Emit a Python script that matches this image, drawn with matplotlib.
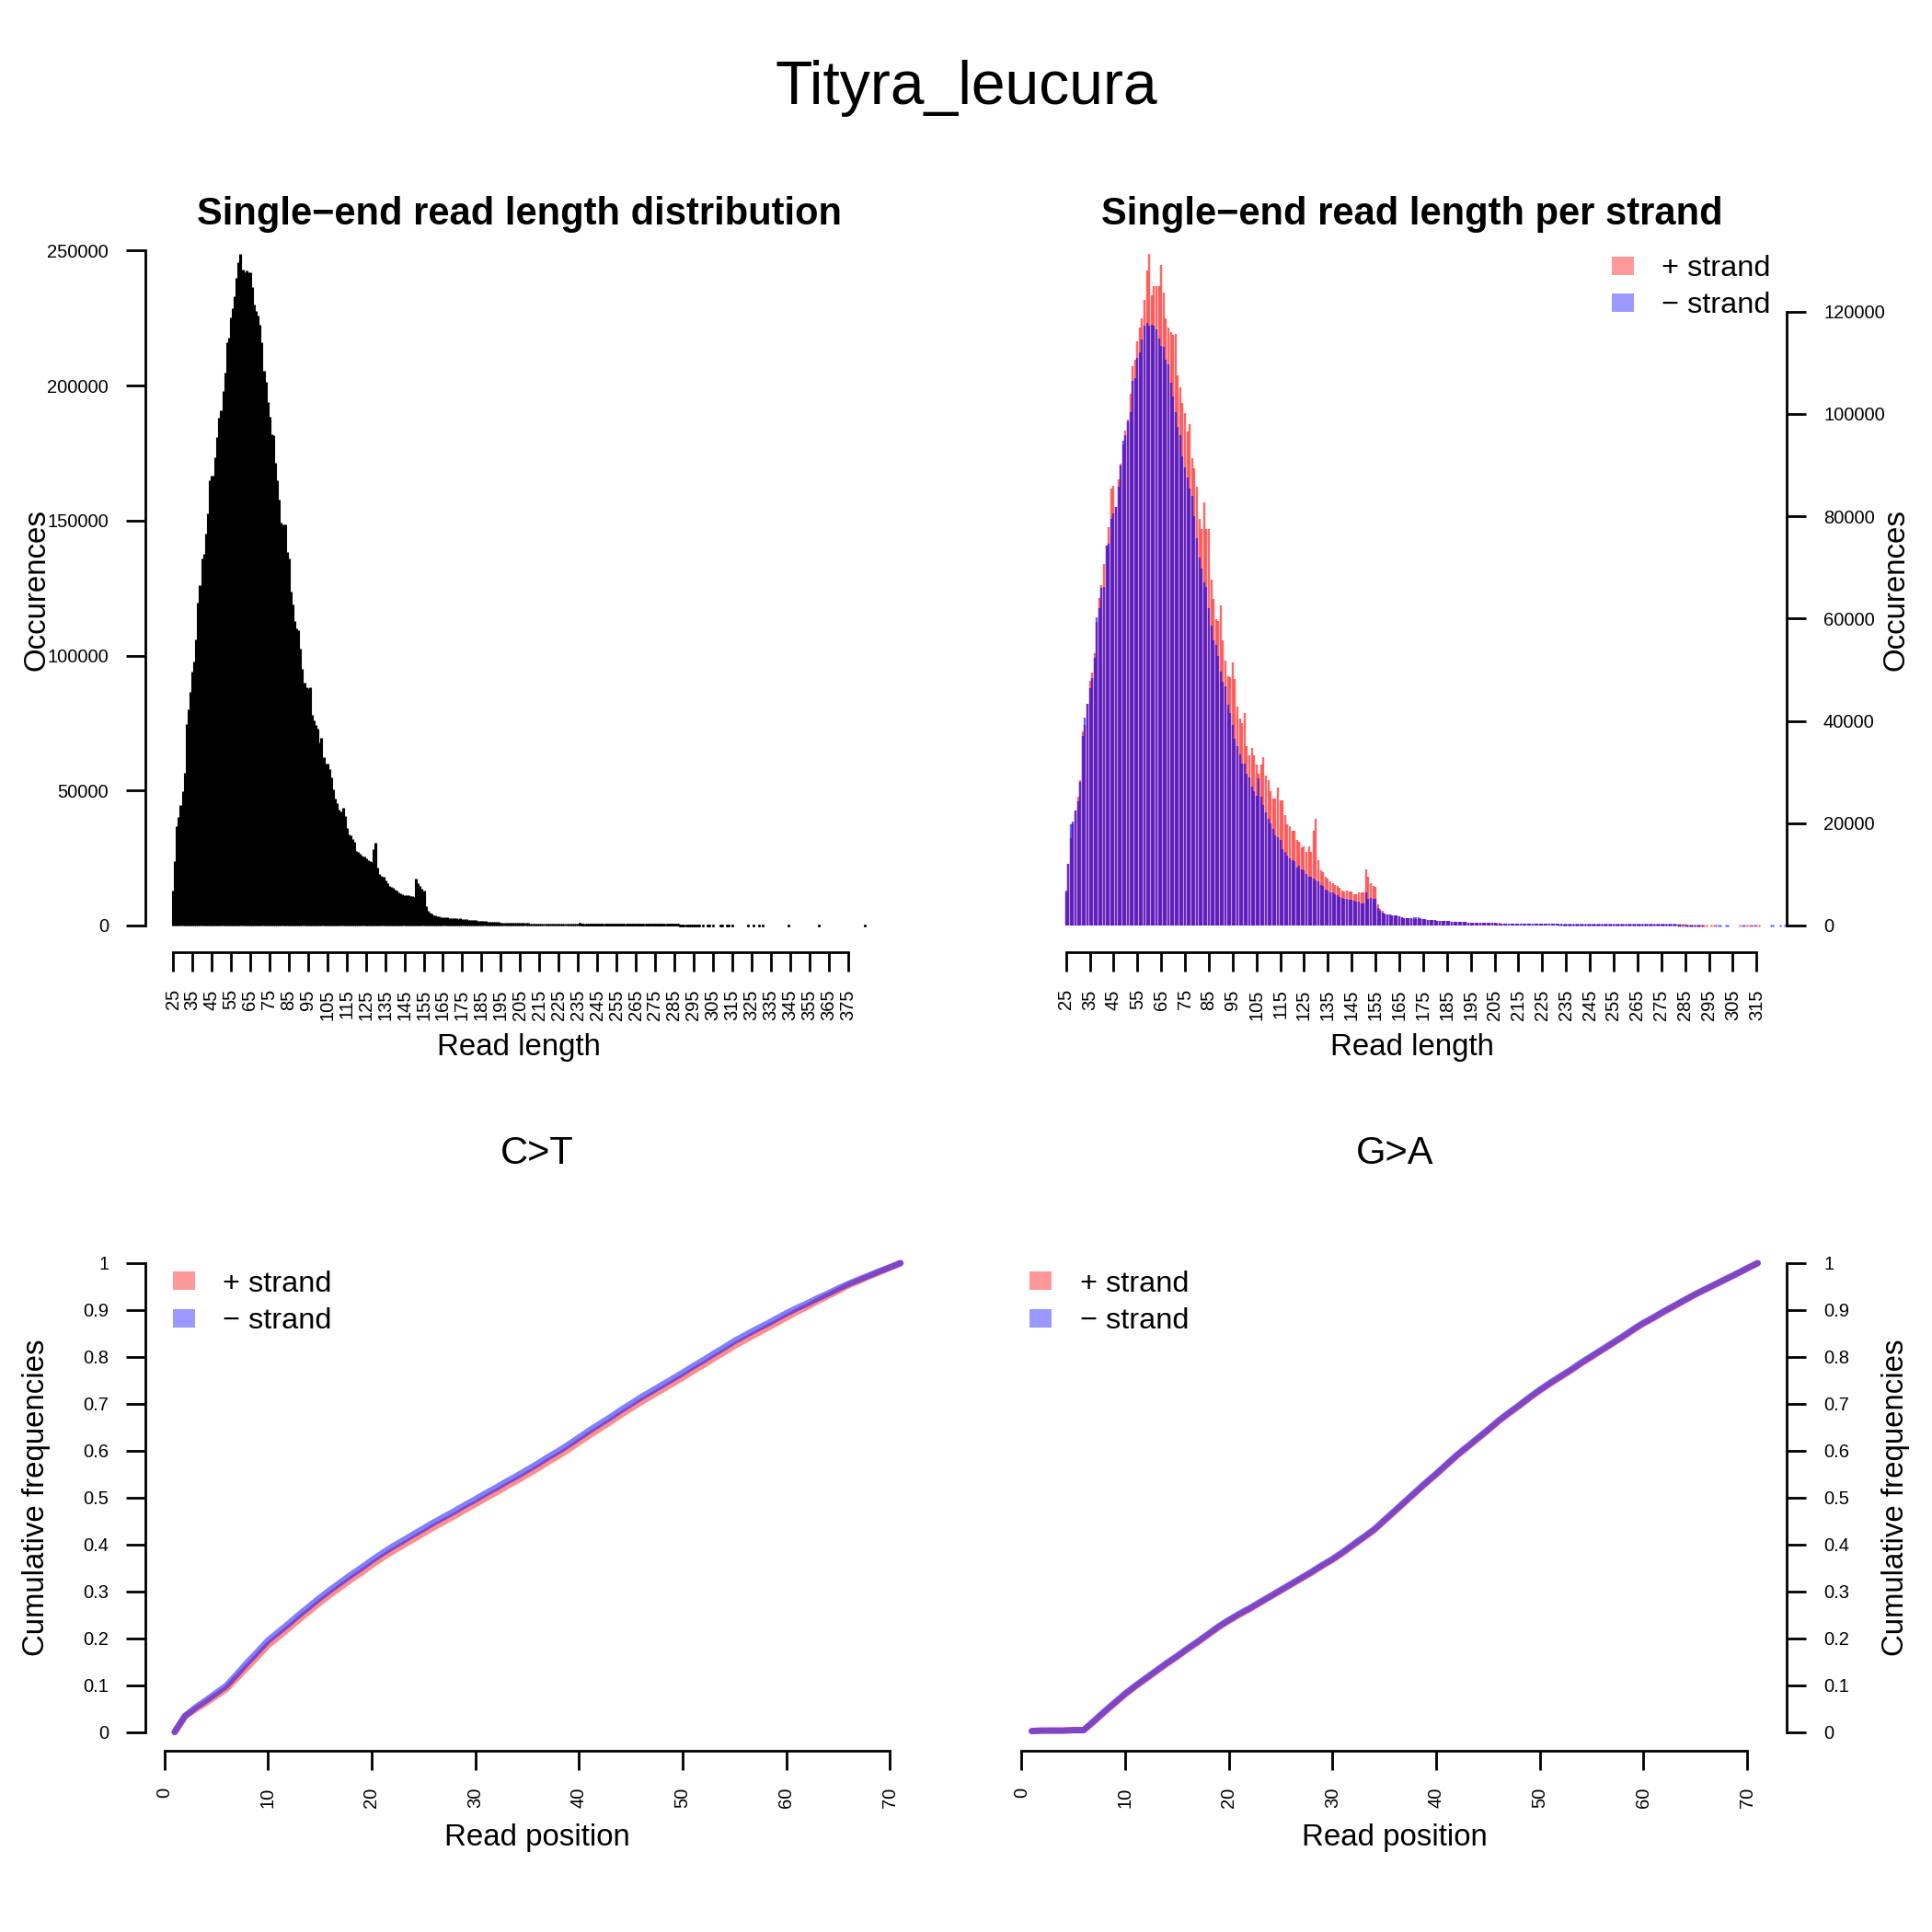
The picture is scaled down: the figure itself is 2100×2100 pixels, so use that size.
import numpy as np
import matplotlib
matplotlib.use("Agg")
import matplotlib.pyplot as plt
from matplotlib.patches import Rectangle

plt.rcParams['font.family'] = ['Liberation Sans', 'DejaVu Sans']

# ---------------- data ----------------
sample_name = "Tityra_leucura"

# read length distribution (all reads), lengths 25..296 then sparse tail
main_first_len = 25
main_counts = [
    13000, 24000, 36700, 40100, 44600, 49800, 56600, 74700, 80000, 86700,
    94000, 97700, 106000, 119600, 126100, 136100, 137600, 145200, 152600, 165100,
    166800, 166800, 173300, 181000, 188100, 190800, 198000, 204800, 216000, 217700,
    225200, 228800, 233200, 239800, 245700, 248800, 242900, 242000, 242500, 242000,
    241800, 236400, 229900, 227500, 225800, 222400, 216200, 205400, 201400, 194000,
    188400, 182100, 181600, 171300, 165100, 157700, 149100, 148600, 148600, 138400,
    136100, 123600, 119000, 112800, 110000, 109400, 102600, 95200, 90100, 88400,
    87800, 88100, 78100, 76000, 74200, 73000, 67900, 69600, 62300, 60000,
    60000, 58000, 54900, 50300, 46900, 45200, 43000, 42400, 43500, 40700,
    36100, 33900, 33300, 32200, 31000, 27600, 27100, 26500, 25900, 25400,
    24800, 24200, 23900, 23500, 28200, 30500, 21400, 19100, 18500, 17900,
    16800, 15700, 14800, 14300, 13900, 13400, 12800, 12300, 11900, 11700,
    11400, 11100, 11100, 10900, 10800, 10600, 17400, 15700, 14800, 13600,
    12800, 7100, 5600, 4800, 4300, 3900, 3700, 3500, 3400, 3100,
    3100,
    3000, 2900, 2800, 2750, 2700, 2650, 2600, 2550, 2600, 2500,
    2400, 2300, 2200, 2100, 2050, 1950, 1900, 1800, 1750, 1700,
    1600, 1550, 1500, 1450, 1400, 1350, 1300, 1250, 1200, 1180,
    1150, 1100, 1080, 1050, 1020, 1000, 980, 960, 940, 920,
    910, 900, 880, 860, 850, 830, 810, 800, 780, 770,
    750, 740, 720, 700, 690, 680, 660, 650, 640, 630,
    610, 600, 590, 580, 570, 560, 550, 540, 530, 520,
    510, 500, 490, 480, 470, 460, 455, 450, 440, 430,
    420, 415, 410, 400, 390, 380, 375, 370, 360, 355,
    350, 340, 335, 330, 320, 315, 310, 300, 295, 290,
    285, 280, 270, 265, 260, 255, 250, 245, 240, 230,
    225, 220, 215, 210, 205, 200, 195, 190, 185, 180,
    175, 170, 160, 150, 140, 120, 100, 80, 60, 40,
    20,
]
main_tail_lengths = [297, 298, 300, 302, 303, 305, 309, 310, 312, 313, 315,
                     323, 326, 329, 331, 344, 360, 384]
main_tail_counts = [8, 6, 5, 4, 4, 3, 3, 3, 2, 2, 2, 2, 2, 1, 1, 1, 1, 1]

# per strand, lengths 25..290 then sparse tails
strand_first_len = 25
plus_counts = [
    6500, 12000, 17000, 20000, 22400, 25100, 28400, 38000, 39200, 43400,
    47900, 49400, 53300, 59300, 64100, 66500, 70700, 74300, 77900, 85400,
    85900, 81800, 87200, 90200, 94100, 96800, 98900, 104000, 109400, 110600,
    114200, 116900, 118700, 122300, 128000, 131300, 123200, 125000, 125000, 125000,
    129200, 123700, 118700, 116900, 116000, 115400, 115700, 107600, 105200, 102200,
    100100, 96500, 98000, 91400, 89300, 85700, 79400, 77600, 82700, 77600,
    77600, 67700, 63800, 59900, 59600, 62600, 55700, 51800, 48800, 48500,
    51500, 48200, 42800, 40400, 39500, 41600, 35000, 33200, 34700, 33200,
    31400, 29600, 31400, 32900, 29300, 28400, 26300, 24800, 24800, 26900,
    24500, 24500, 21500, 19700, 19400, 18600, 18500, 16700, 16400, 15200,
    15500, 14300, 15500, 14300, 18500, 20900, 12800, 10700, 10400, 9500,
    9200, 8600, 8300, 8000, 7700, 7400, 6800, 6600, 6800, 6600,
    6600, 6200, 6200, 6400, 6500, 6500, 11000, 9500, 8300, 7800,
    7600, 4100, 3200, 2800, 2400, 2200, 2100, 2000, 1950, 1900,
    1850,
    1550, 1500, 1450, 1400, 1370, 1340, 1300, 1270, 1250, 1220,
    1180, 1130, 1090, 1050, 1010, 970, 940, 900, 870, 850,
    820, 790, 760, 740, 710, 690, 660, 640, 620, 600,
    580, 560, 545, 530, 515, 500, 490, 480, 470, 460,
    455, 450, 440, 430, 420, 415, 405, 400, 390, 385,
    375, 370, 360, 350, 345, 340, 330, 325, 320, 315,
    305, 300, 295, 290, 285, 280, 275, 270, 265, 260,
    255, 250, 245, 240, 235, 230, 228, 225, 220, 215,
    210, 208, 205, 200, 195, 190, 188, 185, 180, 178,
    175, 170, 168, 165, 160, 158, 155, 150, 148, 145,
    142, 140, 135, 132, 130, 128, 125, 122, 120, 115,
    112, 110, 108, 105, 102, 100, 98, 95, 92, 90,
    85, 80, 70, 60, 50,
]
minus_counts = [
    6800, 12000, 19700, 20300, 22400, 24200, 28100, 37100, 40700, 43400,
    46400, 48400, 52400, 60200, 62000, 66000, 66200, 74300, 74600, 79400,
    80600, 81800, 85700, 89900, 94700, 95900, 98600, 100400, 106400, 107000,
    110900, 112100, 114500, 117200, 117800, 117200, 117400, 117200, 116600, 114800,
    113300, 113200, 110600, 109700, 106100, 103400, 100400, 97400, 95900, 91700,
    89600, 87500, 85400, 84000, 80000, 75800, 71900, 69800, 67100, 66200,
    62000, 58700, 55700, 54800, 52700, 49700, 47600, 46700, 43100, 41600,
    39200, 36500, 35000, 33500, 31700, 31700, 29600, 29000, 27200, 26300,
    25400, 28700, 25100, 23600, 22100, 20900, 20000, 18800, 17600, 17300,
    16700, 14900, 14300, 13700, 13100, 12800, 12500, 11300, 11600, 11000,
    10700, 10100, 9500, 9500, 9200, 8900, 8600, 8000, 7700, 7100,
    6800, 6500, 6400, 6200, 5900, 5600, 5400, 5300, 5200, 5100,
    5000, 4800, 4700, 4700, 4400, 4400, 6400, 5300, 5400, 5300,
    5300, 3500, 2900, 2600, 2300, 2200, 2100, 2000, 1950, 1900,
    1850,
    1550, 1500, 1450, 1450, 1500, 1600, 1650, 1550, 1400, 1250,
    1180, 1120, 1080, 1040, 1000, 960, 930, 890, 860, 840,
    810, 780, 750, 730, 700, 680, 650, 630, 610, 590,
    570, 550, 535, 520, 505, 490, 480, 470, 460, 450,
    445, 440, 430, 420, 410, 405, 395, 390, 380, 375,
    365, 360, 350, 340, 335, 330, 320, 315, 310, 305,
    295, 290, 285, 280, 275, 270, 265, 260, 255, 250,
    245, 240, 235, 230, 225, 220, 218, 215, 210, 205,
    200, 198, 195, 190, 185, 180, 178, 175, 170, 168,
    165, 160, 158, 155, 150, 148, 145, 140, 138, 135,
    132, 130, 125, 122, 120, 118, 115, 112, 110, 105,
    102, 100, 98, 95, 92, 90, 88, 85, 82, 80,
    75, 70, 60, 50, 40,
]
plus_tail_lengths = [291, 292, 293, 294, 296, 297, 308, 311, 312, 315, 316]
plus_tail_counts = [20, 15, 10, 8, 6, 5, 3, 3, 2, 2, 2]
minus_tail_lengths = [291, 292, 298, 299, 300, 302, 303, 309, 310, 313, 314,
                      321, 322, 325, 327]
minus_tail_counts = [20, 15, 8, 6, 6, 5, 4, 3, 3, 2, 2, 1, 1, 1, 1]

# cumulative misincorporation frequencies, read positions 1..71
read_positions = list(range(1, 72))
ct_plus = [
    0.000, 0.034, 0.048, 0.062, 0.077, 0.092, 0.115, 0.138, 0.161, 0.185,
    0.203, 0.221, 0.240, 0.258, 0.276, 0.293, 0.309, 0.325, 0.340, 0.356,
    0.371, 0.385, 0.398, 0.411, 0.424, 0.437, 0.449, 0.461, 0.474, 0.486,
    0.499, 0.511, 0.524, 0.536, 0.549, 0.562, 0.576, 0.589, 0.603, 0.618,
    0.633, 0.647, 0.661, 0.676, 0.690, 0.704, 0.717, 0.730, 0.743, 0.756,
    0.770, 0.783, 0.797, 0.810, 0.824, 0.836, 0.848, 0.860, 0.872, 0.884,
    0.896, 0.907, 0.919, 0.930, 0.941, 0.953, 0.962, 0.972, 0.981, 0.991,
    1.000,
]
ct_minus = [
    0.000, 0.034, 0.052, 0.067, 0.083, 0.099, 0.123, 0.148, 0.171, 0.195,
    0.213, 0.231, 0.250, 0.268, 0.286, 0.303, 0.319, 0.335, 0.350, 0.366,
    0.381, 0.395, 0.408, 0.421, 0.434, 0.447, 0.459, 0.471, 0.484, 0.496,
    0.509, 0.521, 0.534, 0.546, 0.559, 0.572, 0.586, 0.599, 0.613, 0.628,
    0.643, 0.657, 0.671, 0.686, 0.700, 0.714, 0.727, 0.740, 0.753, 0.766,
    0.780, 0.793, 0.807, 0.820, 0.834, 0.846, 0.858, 0.869, 0.881, 0.893,
    0.904, 0.914, 0.925, 0.935, 0.946, 0.956, 0.965, 0.974, 0.983, 0.991,
    1.000,
]
ga_plus = [
    0.002, 0.003, 0.003, 0.003, 0.004, 0.004, 0.022, 0.042, 0.061, 0.080,
    0.097, 0.113, 0.129, 0.145, 0.160, 0.176, 0.191, 0.207, 0.223, 0.237,
    0.250, 0.262, 0.275, 0.288, 0.301, 0.314, 0.327, 0.340, 0.354, 0.367,
    0.382, 0.398, 0.414, 0.430, 0.450, 0.470, 0.490, 0.510, 0.530, 0.549,
    0.569, 0.589, 0.607, 0.625, 0.643, 0.662, 0.679, 0.695, 0.712, 0.728,
    0.743, 0.757, 0.771, 0.786, 0.800, 0.814, 0.828, 0.842, 0.857, 0.871,
    0.883, 0.896, 0.908, 0.921, 0.933, 0.944, 0.955, 0.966, 0.977, 0.989,
    1.000,
]
ga_minus = [
    0.002, 0.003, 0.003, 0.003, 0.004, 0.004, 0.024, 0.044, 0.063, 0.082,
    0.099, 0.115, 0.131, 0.147, 0.162, 0.178, 0.193, 0.209, 0.225, 0.239,
    0.252, 0.264, 0.277, 0.290, 0.303, 0.316, 0.329, 0.342, 0.356, 0.369,
    0.384, 0.400, 0.416, 0.432, 0.452, 0.472, 0.492, 0.512, 0.532, 0.551,
    0.571, 0.591, 0.609, 0.627, 0.645, 0.664, 0.681, 0.697, 0.714, 0.730,
    0.745, 0.759, 0.773, 0.788, 0.802, 0.816, 0.830, 0.844, 0.859, 0.873,
    0.885, 0.898, 0.910, 0.922, 0.934, 0.945, 0.956, 0.967, 0.978, 0.989,
    1.000,
]

# ---------------- style ----------------
W = H = 2100
fig = plt.figure(figsize=(21, 21), dpi=100)

def pt(v):  # pixels -> points at 100 dpi
    return v * 0.72

RED_BAR = (1.0, 0.0, 0.0, 0.6)
BLUE_BAR = (0.0, 0.0, 1.0, 0.6)
RED_LEG = (1.0, 0.0, 0.0, 0.4)
BLUE_LEG = (0.0, 0.0, 1.0, 0.4)
RED_LINE = (1.0, 0.0, 0.0, 0.45)
BLUE_LINE = (0.0, 0.0, 1.0, 0.5)

TICK_FS = 14.5
LAB_FS = 23.8
TITLE_FS = 30
AX_LW = pt(2.8)
TICK_LEN = pt(21)
TICK_PAD = pt(19)


def add_ax(x0, y0, x1, y1):
    return fig.add_axes([x0 / W, 1 - y1 / H, (x1 - x0) / W, (y1 - y0) / H])


def r_lim(lo, hi):
    rng = hi - lo
    return lo - 0.04 * rng, hi + 0.04 * rng


def style(ax, side):
    for s in ax.spines.values():
        s.set_visible(False)
        s.set_linewidth(AX_LW)
    ax.spines['bottom'].set_visible(True)
    ax.spines[side].set_visible(True)
    ax.tick_params(axis='both', direction='out', length=TICK_LEN, width=AX_LW,
                   pad=TICK_PAD, labelsize=TICK_FS)
    if side == 'right':
        ax.yaxis.tick_right()
    ax.patch.set_alpha(0)


def h_lines(ax, lens, counts, color, lw_px, px_per_count):
    """type='h' style lines; very short ones shown as round dots like R's round caps."""
    lens = np.asarray(lens)
    counts = np.asarray(counts, dtype=float)
    ax.vlines(lens, 0, counts, colors=[color], linewidth=pt(lw_px), capstyle='butt')
    small = counts * px_per_count < 1.5
    ax.plot(lens[small], counts[small], linestyle='none', marker='o',
            markersize=pt(lw_px), markeredgewidth=0, color=color)


# ---------------- panel 1: all reads ----------------
ax1 = add_ax(158, 246.7, 970.5, 1035.2)
lens1 = np.arange(main_first_len, main_first_len + len(main_counts))
all_l = np.concatenate([lens1, main_tail_lengths])
all_c = np.concatenate([main_counts, main_tail_counts])
ylim1 = r_lim(0, all_c.max())
h_lines(ax1, all_l, all_c, 'black', 3.1, 788.5 / (ylim1[1] - ylim1[0]))
ax1.set_xlim(*r_lim(all_l.min(), all_l.max()))
ax1.set_ylim(*ylim1)
style(ax1, 'left')
xt1 = list(range(25, 376, 10))
ax1.set_xticks(xt1)
ax1.set_xticklabels([str(v) for v in xt1], rotation=90)
yt1 = list(range(0, 250001, 50000))
ax1.set_yticks(yt1)
ax1.set_yticklabels([str(v) for v in yt1])
ax1.spines['bottom'].set_bounds(xt1[0], xt1[-1])
ax1.spines['left'].set_bounds(yt1[0], yt1[-1])

# ---------------- panel 2: per strand ----------------
ax2 = add_ax(1128.5, 246.7, 1942, 1035.2)
lens_p = np.concatenate([np.arange(strand_first_len, strand_first_len + len(plus_counts)), plus_tail_lengths])
cnt_p = np.concatenate([plus_counts, plus_tail_counts])
lens_m = np.concatenate([np.arange(strand_first_len, strand_first_len + len(minus_counts)), minus_tail_lengths])
cnt_m = np.concatenate([minus_counts, minus_tail_counts])
ylim2 = r_lim(0, cnt_p.max())
ppc2 = 788.5 / (ylim2[1] - ylim2[0])
h_lines(ax2, lens_p, cnt_p, RED_BAR, 2.4, ppc2)
h_lines(ax2, lens_m, cnt_m, BLUE_BAR, 2.4, ppc2)
ax2.set_xlim(*r_lim(lens_p.min(), lens_p.max()))
ax2.set_ylim(*ylim2)
style(ax2, 'right')
xt2 = list(range(25, 316, 10))
ax2.set_xticks(xt2)
ax2.set_xticklabels([str(v) for v in xt2], rotation=90)
yt2 = list(range(0, 120001, 20000))
ax2.set_yticks(yt2)
ax2.set_yticklabels([str(v) for v in yt2])
ax2.spines['bottom'].set_bounds(xt2[0], xt2[-1])
ax2.spines['right'].set_bounds(yt2[0], yt2[-1])

# ---------------- panels 3/4: cumulative frequencies ----------------
def cum_panel(x0, x1, side, plus, minus):
    ax = add_ax(x0, 1352.6, x1, 1903)
    ax.plot(read_positions, plus, color=RED_LINE, lw=pt(7), solid_capstyle='round',
            solid_joinstyle='round')
    ax.plot(read_positions, minus, color=BLUE_LINE, lw=pt(7), solid_capstyle='round',
            solid_joinstyle='round')
    ax.set_xlim(*r_lim(min(read_positions), max(read_positions)))
    ax.set_ylim(*r_lim(0, 1))
    style(ax, side)
    xt = list(range(0, 71, 10))
    ax.set_xticks(xt)
    ax.set_xticklabels([str(v) for v in xt], rotation=90)
    yt = [i / 10 for i in range(11)]
    ax.set_yticks(yt)
    ax.set_yticklabels(['0'] + ['%.1f' % v for v in yt[1:-1]] + ['1'])
    ax.spines['bottom'].set_bounds(0, 70)
    ax.spines[side].set_bounds(0, 1)
    return ax

ax3 = cum_panel(158.3, 1010.3, 'left', ct_plus, ct_minus)
ax4 = cum_panel(1090, 1942, 'right', ga_plus, ga_minus)

# ---------------- overlay text / legends ----------------
ov = fig.add_axes([0, 0, 1, 1])
ov.set_xlim(0, W)
ov.set_ylim(H, 0)
ov.axis('off')
ov.patch.set_alpha(0)

ov.text(1050, 113, sample_name, fontsize=47.5, ha='center', va='baseline')
ov.text(564, 244, "Single\u2212end read length distribution", fontsize=TITLE_FS,
        fontweight='bold', ha='center', va='baseline')
ov.text(1535, 244, "Single\u2212end read length per strand", fontsize=TITLE_FS,
        fontweight='bold', ha='center', va='baseline')
ov.text(584, 1265, "C>T", fontsize=TITLE_FS, ha='center', va='baseline')
ov.text(1516, 1265, "G>A", fontsize=TITLE_FS, ha='center', va='baseline')

ov.text(564, 1147, "Read length", fontsize=LAB_FS, ha='center', va='baseline')
ov.text(1535, 1147, "Read length", fontsize=LAB_FS, ha='center', va='baseline')
ov.text(584, 2006, "Read position", fontsize=LAB_FS, ha='center', va='baseline')
ov.text(1516, 2006, "Read position", fontsize=LAB_FS, ha='center', va='baseline')

ov.text(40, 641, "Occurences", fontsize=LAB_FS, ha='center', va='center', rotation=90)
ov.text(2061, 641, "Occurences", fontsize=LAB_FS, ha='center', va='center', rotation=90)
ov.text(40, 1628, "Cumulative frequencies", fontsize=LAB_FS, ha='center', va='center', rotation=90)
ov.text(2061, 1628, "Cumulative frequencies", fontsize=LAB_FS, ha='center', va='center', rotation=90)


def legend(xsq, xtxt, ytop, dy):
    for i, (col, lab) in enumerate([(RED_LEG, "+ strand"), (BLUE_LEG, "\u2212 strand")]):
        yc = ytop + i * dy
        ov.add_patch(Rectangle((xsq, yc - 10), 24, 20, facecolor=col, edgecolor='none'))
        ov.text(xtxt, yc, lab, fontsize=23.4, ha='left', va='center_baseline')

legend(1752, 1806, 289, 39.5)
legend(188, 242, 1392, 40.5)
legend(1119, 1174, 1392, 40.5)

fig.savefig("out.png", dpi=100)
